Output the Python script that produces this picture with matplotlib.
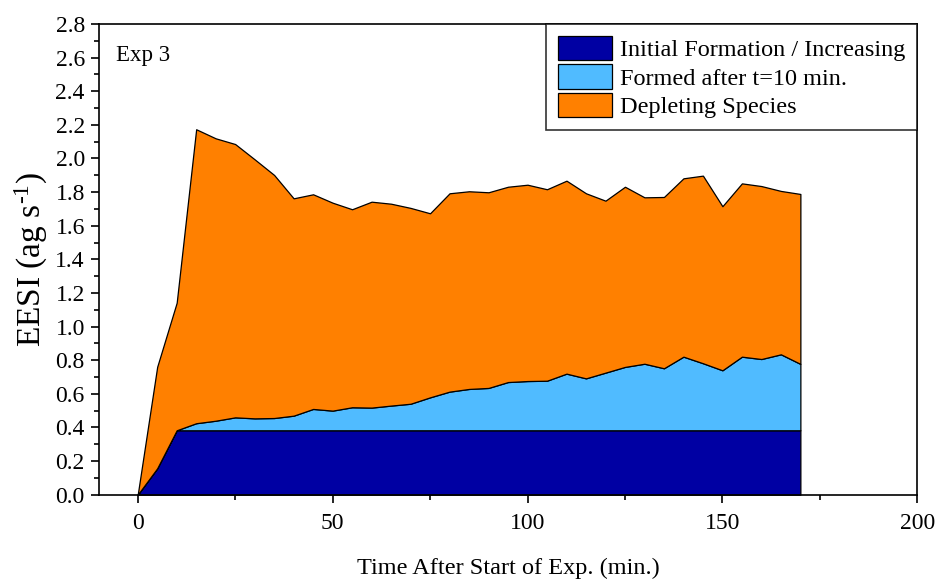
import numpy as np
import matplotlib
matplotlib.use("Agg")
import matplotlib.pyplot as plt
from matplotlib.ticker import MultipleLocator, FormatStrFormatter

plt.rcParams['font.family'] = ['Liberation Serif', 'DejaVu Serif']
plt.rcParams['mathtext.default'] = 'regular'

# Time after start of experiment (min.)
time_min = [0, 5, 10, 15, 20, 25, 30, 35, 40, 45, 50, 55, 60, 65, 70, 75, 80, 85,
            90, 95, 100, 105, 110, 115, 120, 125, 130, 135, 140, 145, 150, 155, 160,
            165, 170]

# EESI signal per species group (ag s-1), stacked bottom to top
initial_increasing = [0.000, 0.157, 0.383, 0.383, 0.383, 0.383, 0.383, 0.383, 0.383,
                      0.383, 0.383, 0.383, 0.383, 0.383, 0.383, 0.383, 0.383, 0.383,
                      0.383, 0.383, 0.383, 0.383, 0.383, 0.383, 0.383, 0.383, 0.383,
                      0.383, 0.383, 0.383, 0.383, 0.383, 0.383, 0.383, 0.383]
formed_after_10 = [0.000, 0.000, 0.000, 0.042, 0.057, 0.077, 0.071, 0.073, 0.087,
                   0.127, 0.117, 0.137, 0.135, 0.147, 0.158, 0.196, 0.230, 0.246,
                   0.252, 0.287, 0.293, 0.295, 0.337, 0.309, 0.343, 0.377, 0.396,
                   0.369, 0.438, 0.399, 0.357, 0.438, 0.424, 0.452, 0.395]
depleting = [0.000, 0.604, 0.759, 1.749, 1.680, 1.626, 1.541, 1.446, 1.293,
             1.277, 1.237, 1.178, 1.225, 1.201, 1.165, 1.095, 1.180, 1.176,
             1.164, 1.162, 1.168, 1.139, 1.148, 1.101, 1.023, 1.072, 0.990,
             1.019, 1.061, 1.116, 0.976, 1.031, 1.029, 0.972, 1.011]

series_labels = ["Initial Formation / Increasing", "Formed after t=10 min.",
                 "Depleting Species"]
series_colors = ["#0000A3", "#50BBFF", "#FF8000"]

fig = plt.figure(figsize=(9.42, 5.83), dpi=100)
ax = fig.add_axes([0.1048, 0.1515, 0.869, 0.8073])

ax.stackplot(time_min, initial_increasing, formed_after_10, depleting,
             labels=series_labels, colors=series_colors,
             edgecolor="black", linewidth=0.9)

ax.set_xlim(-10, 200)
ax.set_ylim(0, 2.8)
ax.xaxis.set_major_locator(MultipleLocator(50))
ax.xaxis.set_minor_locator(MultipleLocator(25))
ax.yaxis.set_major_locator(MultipleLocator(0.2))
ax.yaxis.set_minor_locator(MultipleLocator(0.1))
ax.yaxis.set_major_formatter(FormatStrFormatter('%.1f'))

ax.tick_params(which='both', direction='out', top=False, right=False,
               width=1.2, labelsize=17)
ax.tick_params(which='major', length=6)
ax.tick_params(which='minor', length=3.5)
ax.tick_params(axis='x', which='major', pad=7)
ax.tick_params(axis='y', which='major', pad=4)
for sp in ax.spines.values():
    sp.set_linewidth(1.2)

ax.set_xlabel("Time After Start of Exp. (min.)", fontsize=17.5, labelpad=17)
ax.set_ylabel("EESI (ag s$^{\u20101}$)", fontsize=24, labelpad=4)

ax.text(0.021, 0.934, "Exp 3", transform=ax.transAxes, fontsize=16.5,
        ha='left', va='center')

leg = ax.legend(loc='upper right', fontsize=17.5, frameon=True, fancybox=False,
                edgecolor='black', borderaxespad=0, handlelength=2.22,
                handleheight=1.15, labelspacing=0.12, handletextpad=0.33,
                borderpad=0.5)
leg.get_frame().set_linewidth(1.2)

fig.savefig("out.png", dpi=100)
